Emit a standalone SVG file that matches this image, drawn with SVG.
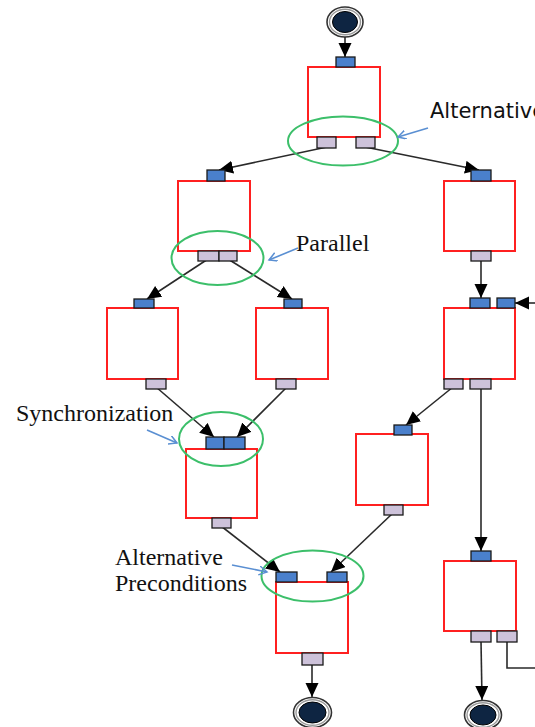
<svg xmlns="http://www.w3.org/2000/svg" width="535" height="727" viewBox="0 0 535 727">
  <style>
    .box { fill: #ffffff; stroke: #ff2020; stroke-width: 2; }
    .pin { fill: #4a80cc; stroke: #1a1a1a; stroke-width: 1.3; }
    .pout { fill: #cdc2da; stroke: #1a1a1a; stroke-width: 1.3; }
    .grp { fill: none; stroke: #3cbf6a; stroke-width: 2; }
    .flow { fill: none; stroke: #2a2a2a; stroke-width: 1.6; }
    .note { fill: none; stroke: #5a8fd2; stroke-width: 1.6; }
    .serif { font-family: "Liberation Serif", "Times New Roman", serif; font-size: 24px; fill: #111; }
    .sans { font-family: "DejaVu Sans", Verdana, sans-serif; font-size: 21px; fill: #111; }
    .ring1 { fill: #ffffff; stroke: #333; stroke-width: 1.6; }
    .ring2 { fill: #ffffff; stroke: #999; stroke-width: 1.4; }
    .core { fill: #0e2542; stroke: #000; stroke-width: 1; }
  </style>
  <defs>
    <marker id="head" markerUnits="userSpaceOnUse" markerWidth="15" markerHeight="14" refX="14" refY="6.5" orient="auto">
      <path d="M0,0 L14,6.5 L0,13 z" fill="#000"/>
    </marker>
    <marker id="open" markerUnits="userSpaceOnUse" markerWidth="10" markerHeight="10" refX="8" refY="4.5" orient="auto">
      <path d="M0,0 L8,4.5 L0,9" fill="none" stroke="#5a8fd2" stroke-width="1.5"/>
    </marker>
  </defs>

  <!-- activity boxes -->
  <g id="n-top"><rect class="box" x="308" y="67" width="72" height="70"/></g>
  <g id="n-left2"><rect class="box" x="178" y="181" width="72" height="70"/></g>
  <g id="n-right2"><rect class="box" x="444" y="181" width="71" height="70"/></g>
  <g id="n-left3"><rect class="box" x="107" y="308" width="71" height="71"/></g>
  <g id="n-mid3"><rect class="box" x="256" y="308" width="72" height="71"/></g>
  <g id="n-right3"><rect class="box" x="444" y="308" width="71" height="71"/></g>
  <g id="n-mid4"><rect class="box" x="356" y="434" width="72" height="71"/></g>
  <g id="n-sync"><rect class="box" x="186" y="449" width="71" height="69"/></g>
  <g id="n-join"><rect class="box" x="276" y="582" width="72" height="71"/></g>
  <g id="n-right5"><rect class="box" x="444" y="561" width="72" height="70"/></g>

  <!-- start / end -->
  <g id="start">
    <ellipse class="ring1" cx="345" cy="22" rx="18" ry="15"/>
    <ellipse class="ring2" cx="345" cy="22" rx="15.5" ry="12.8"/>
    <ellipse class="core" cx="345" cy="22" rx="12.5" ry="10.5"/>
  </g>
  <g id="end-a">
    <ellipse class="ring1" cx="312.5" cy="712.5" rx="19" ry="15"/>
    <ellipse class="ring2" cx="312.5" cy="712.5" rx="16.5" ry="12.8"/>
    <ellipse class="core" cx="312.5" cy="712.5" rx="13.5" ry="10.5"/>
  </g>
  <g id="end-b">
    <ellipse class="ring1" cx="483" cy="715" rx="18.5" ry="14.5"/>
    <ellipse class="ring2" cx="483" cy="715" rx="16" ry="12.3"/>
    <ellipse class="core" cx="483" cy="715" rx="13" ry="10"/>
  </g>

  <!-- connectors -->
  <g id="connectors">
    <line class="flow" x1="345" y1="37" x2="345" y2="57" marker-end="url(#head)"/>
    <line class="flow" x1="327" y1="147" x2="219" y2="170" marker-end="url(#head)"/>
    <line class="flow" x1="365" y1="147" x2="479" y2="170" marker-end="url(#head)"/>
    <line class="flow" x1="208" y1="259" x2="147" y2="299" marker-end="url(#head)"/>
    <line class="flow" x1="228" y1="259" x2="292" y2="299" marker-end="url(#head)"/>
    <line class="flow" x1="481" y1="259" x2="481" y2="298" marker-end="url(#head)"/>
    <line class="flow" x1="536" y1="303" x2="515" y2="303" marker-end="url(#head)"/>
    <line class="flow" x1="156" y1="387" x2="214" y2="437" marker-end="url(#head)"/>
    <line class="flow" x1="287" y1="387" x2="237" y2="437" marker-end="url(#head)"/>
    <line class="flow" x1="453" y1="387" x2="406" y2="425" marker-end="url(#head)"/>
    <line class="flow" x1="481" y1="387" x2="481" y2="551" marker-end="url(#head)"/>
    <line class="flow" x1="221" y1="526" x2="280" y2="572" marker-end="url(#head)"/>
    <line class="flow" x1="393" y1="513" x2="331" y2="572" marker-end="url(#head)"/>
    <line class="flow" x1="312" y1="663" x2="312" y2="697" marker-end="url(#head)"/>
    <line class="flow" x1="481" y1="641" x2="482" y2="700" marker-end="url(#head)"/>
    <polyline class="flow" points="507,641 507,668 536,668"/>
  </g>

  <!-- pins -->
  <g id="pins">
    <rect class="pin" x="336" y="57" width="19" height="10"/>
    <rect class="pout" x="317" y="137" width="19" height="11"/>
    <rect class="pout" x="356" y="137" width="19" height="11"/>

    <rect class="pin" x="207" y="170" width="18" height="11"/>
    <rect class="pout" x="198" y="251" width="21" height="10"/>
    <rect class="pout" x="219" y="251" width="18" height="10"/>

    <rect class="pin" x="471" y="170" width="20" height="11"/>
    <rect class="pout" x="471" y="251" width="20" height="10"/>

    <rect class="pin" x="134" y="299" width="20" height="9"/>
    <rect class="pout" x="146" y="379" width="20" height="10"/>

    <rect class="pin" x="284" y="299" width="18" height="9"/>
    <rect class="pout" x="276" y="379" width="20" height="10"/>

    <rect class="pin" x="470" y="298" width="20" height="10"/>
    <rect class="pin" x="497" y="298" width="18" height="10"/>
    <rect class="pout" x="444" y="379" width="19" height="10"/>
    <rect class="pout" x="470" y="379" width="21" height="10"/>

    <rect class="pin" x="394" y="425" width="18" height="10"/>
    <rect class="pout" x="384" y="505" width="19" height="10"/>

    <rect class="pin" x="206" y="437" width="18" height="12"/>
    <rect class="pin" x="224" y="437" width="21" height="12"/>
    <rect class="pout" x="212" y="518" width="19" height="10"/>

    <rect class="pin" x="276" y="572" width="21" height="10"/>
    <rect class="pin" x="327" y="572" width="20" height="10"/>
    <rect class="pout" x="302" y="653" width="21" height="12"/>

    <rect class="pin" x="471" y="551" width="20" height="10"/>
    <rect class="pout" x="471" y="631" width="20" height="11"/>
    <rect class="pout" x="497" y="631" width="20" height="11"/>
  </g>

  <!-- highlight ellipses -->
  <g id="highlights">
    <ellipse class="grp" cx="343" cy="141" rx="55" ry="24.5"/>
    <ellipse class="grp" cx="217.5" cy="258" rx="46" ry="27"/>
    <ellipse class="grp" cx="221" cy="439" rx="42" ry="27"/>
    <ellipse class="grp" cx="312.5" cy="576" rx="51" ry="25.5"/>
  </g>

  <!-- annotations -->
  <g id="notes">
    <text class="sans" x="430" y="118">Alternative</text>
    <line class="note" x1="428" y1="128" x2="398" y2="137" marker-end="url(#open)"/>
    <text class="serif" x="296" y="251">Parallel</text>
    <line class="note" x1="298" y1="248" x2="269" y2="260" marker-end="url(#open)"/>
    <text class="serif" x="16" y="421">Synchronization</text>
    <line class="note" x1="147" y1="430" x2="177" y2="443" marker-end="url(#open)"/>
    <text class="serif" x="115" y="565">Alternative</text>
    <text class="serif" x="115" y="591">Preconditions</text>
    <line class="note" x1="232" y1="565" x2="267" y2="572" marker-end="url(#open)"/>
  </g>
</svg>
